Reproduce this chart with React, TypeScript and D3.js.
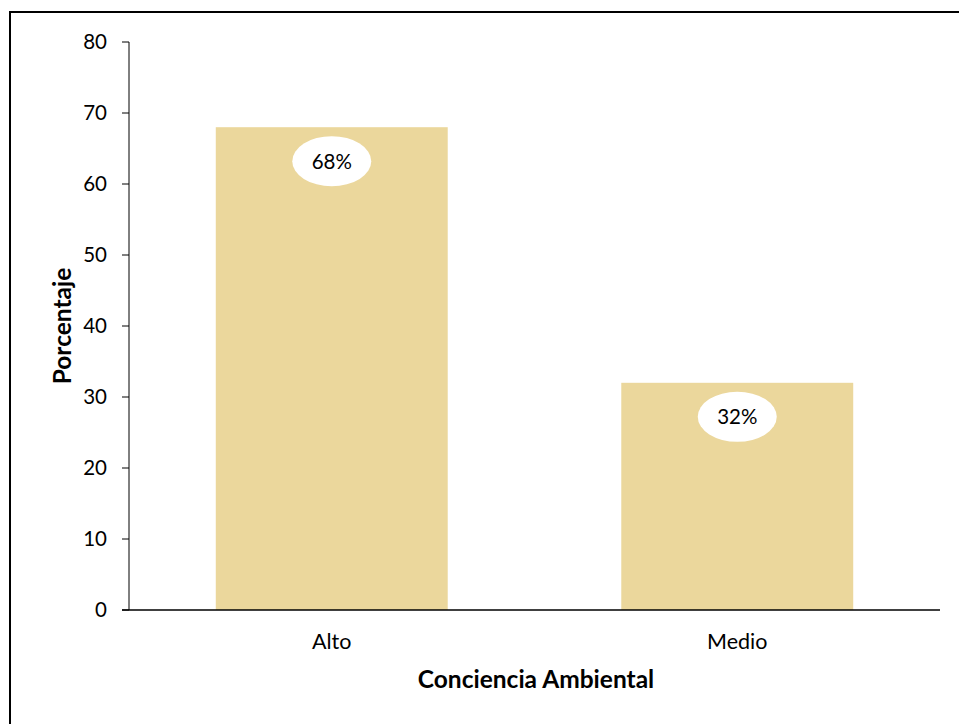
import React from "react";
import * as d3 from "d3";

const categories = ["Alto", "Medio"];
const values = [68, 32];
const labels = ["68%", "32%"];
const yTicks = [0, 10, 20, 30, 40, 50, 60, 70, 80];

const W = 959;
const H = 724;
const FONT = "Lato, 'Open Sans', sans-serif";

export default function App() {
  const x = d3.scaleBand<string>().domain(categories).range([129, 940]).paddingInner(0.428).paddingOuter(0.214);
  const y = d3.scaleLinear().domain([0, 80]).range([610, 42]);

  return (
    <svg width={W} height={H} style={{ position: "absolute", left: 0, top: 0 }} fontFamily={FONT}>
      <rect x={0} y={0} width={W} height={H} fill="#fff" />
      <rect x={10} y={12} width={980} height={760} fill="none" stroke="#000" strokeWidth={2} />
      {categories.map((c, i) => (
        <rect key={c} x={x(c)!} y={y(values[i])} width={x.bandwidth()} height={y(0) - y(values[i])} fill="#EBD79C" />
      ))}
      {/* y axis */}
      <line x1={129} x2={129} y1={y(80)} y2={y(0)} stroke="#000" strokeWidth={1} />
      {yTicks.map((t) => (
        <g key={t}>
          <line x1={122} x2={129} y1={y(t)} y2={y(t)} stroke="#000" strokeWidth={1} />
          <text x={107} y={y(t)} dy="0.36em" textAnchor="end" fontSize={20.5} fill="#000">
            {t}
          </text>
        </g>
      ))}
      {/* x axis */}
      <line x1={122} x2={940} y1={y(0)} y2={y(0)} stroke="#000" strokeWidth={1.5} />
      {categories.map((c) => (
        <text key={c} x={x(c)! + x.bandwidth() / 2} y={649} textAnchor="middle" fontSize={21.5} fill="#000">
          {c}
        </text>
      ))}
      {/* data labels */}
      {categories.map((c, i) => {
        const cx = x(c)! + x.bandwidth() / 2;
        const cy = y(values[i]) + 34;
        return (
          <g key={c + "l"}>
            <ellipse cx={cx} cy={cy} rx={39.5} ry={25} fill="#fff" />
            <text x={cx} y={cy} dy="0.36em" textAnchor="middle" fontSize={20.5} fill="#000">
              {labels[i]}
            </text>
          </g>
        );
      })}
      <text x={536} y={688} textAnchor="middle" fontSize={24.5} fontWeight="bold" fill="#000">
        Conciencia Ambiental
      </text>
      <text transform={`translate(71, ${y(40)}) rotate(-90)`} textAnchor="middle" fontSize={24.5} fontWeight="bold" fill="#000">
        Porcentaje
      </text>
    </svg>
  );
}
